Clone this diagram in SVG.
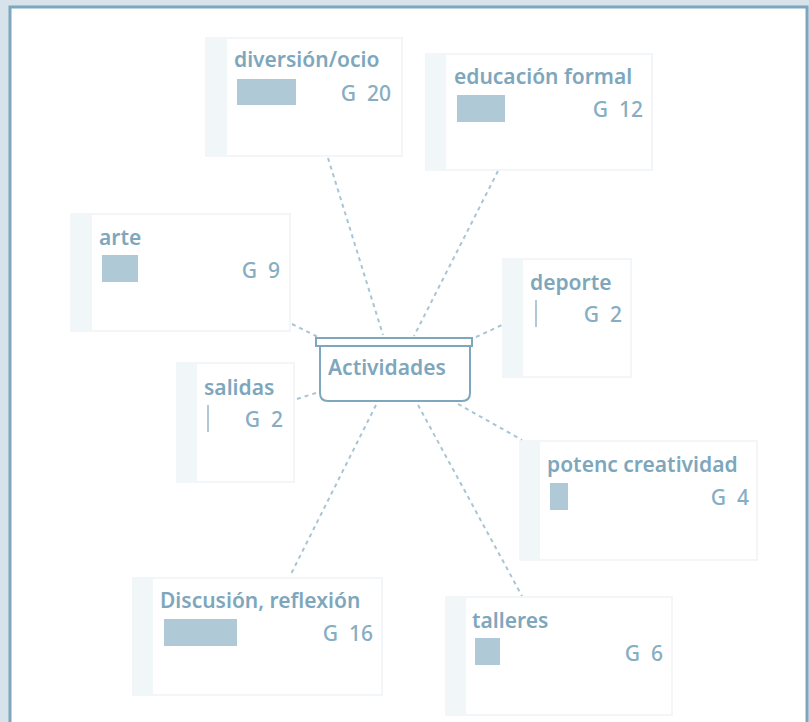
<svg xmlns="http://www.w3.org/2000/svg" width="809" height="722" viewBox="0 0 809 722">
<style>
.card{fill:#ffffff;stroke:#eef3f6;stroke-width:1.5}
.strip{fill:#f1f6f9}
.t{font-family:"Noto Sans","Open Sans",sans-serif;font-weight:600;font-size:21px;fill:#7ea7bd}
.g{font-family:"Noto Sans","Open Sans",sans-serif;font-weight:500;font-size:21px;fill:#86adc2;text-anchor:end;white-space:pre}
.bar{fill:#afc9d6}
.conn{stroke:#a9c5d4;stroke-width:2;stroke-dasharray:4 4;fill:none}
</style>
<rect width="809" height="722" fill="#d6e3ea"/>
<rect x="10" y="7" width="797" height="730" fill="#ffffff" stroke="#7da7bf" stroke-width="3"/>
<g id="connectors">
<line class="conn" x1="328" y1="158" x2="383" y2="335"/>
<line class="conn" x1="498" y1="171" x2="414" y2="336"/>
<line class="conn" x1="292" y1="324" x2="318" y2="337"/>
<line class="conn" x1="476" y1="337" x2="502" y2="325"/>
<line class="conn" x1="297" y1="399" x2="319" y2="392"/>
<line class="conn" x1="458" y1="404" x2="522" y2="440"/>
<line class="conn" x1="376" y1="405" x2="290" y2="576"/>
<line class="conn" x1="418" y1="405" x2="522" y2="596"/>
</g>
<g id="n-diversion">
<rect class="card" x="206" y="38" width="196" height="118"/>
<rect class="strip" x="207" y="39" width="20" height="116"/>
<text class="t" x="234" y="67">diversión/ocio</text>
<rect class="bar" x="237" y="79" width="59" height="26"/>
<text class="g" x="391" y="101" xml:space="preserve">G  20</text>
</g>
<g id="n-educacion">
<rect class="card" x="426" y="54" width="226" height="116"/>
<rect class="strip" x="427" y="55" width="19" height="114"/>
<text class="t" x="454" y="84">educación formal</text>
<rect class="bar" x="457" y="95" width="48" height="27"/>
<text class="g" x="643" y="117" xml:space="preserve">G  12</text>
</g>
<g id="n-arte">
<rect class="card" x="71" y="214" width="219" height="117"/>
<rect class="strip" x="72" y="215" width="20" height="115"/>
<text class="t" x="99" y="245">arte</text>
<rect class="bar" x="102" y="255" width="36" height="27"/>
<text class="g" x="280" y="278" xml:space="preserve">G  9</text>
</g>
<g id="n-deporte">
<rect class="card" x="503" y="259" width="128" height="118"/>
<rect class="strip" x="504" y="260" width="19" height="116"/>
<text class="t" x="530" y="290">deporte</text>
<rect class="bar" x="535" y="300" width="2" height="27"/>
<text class="g" x="622" y="322" xml:space="preserve">G  2</text>
</g>
<g id="n-salidas">
<rect class="card" x="177" y="363" width="117" height="119"/>
<rect class="strip" x="178" y="364" width="19" height="117"/>
<text class="t" x="204" y="395">salidas</text>
<rect class="bar" x="207" y="405" width="2" height="27"/>
<text class="g" x="283" y="427" xml:space="preserve">G  2</text>
</g>
<g id="n-potenc">
<rect class="card" x="520" y="441" width="237" height="119"/>
<rect class="strip" x="521" y="442" width="19" height="117"/>
<text class="t" x="547" y="472">potenc creatividad</text>
<rect class="bar" x="550" y="483" width="18" height="27"/>
<text class="g" x="749" y="505" xml:space="preserve">G  4</text>
</g>
<g id="n-discusion">
<rect class="card" x="133" y="578" width="249" height="117"/>
<rect class="strip" x="134" y="579" width="19" height="115"/>
<text class="t" x="160" y="608">Discusión, reflexión</text>
<rect class="bar" x="164" y="619" width="73" height="27"/>
<text class="g" x="373" y="641" xml:space="preserve">G  16</text>
</g>
<g id="n-talleres">
<rect class="card" x="446" y="597" width="226" height="118"/>
<rect class="strip" x="447" y="598" width="19" height="116"/>
<text class="t" x="472" y="628">talleres</text>
<rect class="bar" x="475" y="638" width="25" height="27"/>
<text class="g" x="663" y="661" xml:space="preserve">G  6</text>
</g>
<g id="n-actividades">
<path d="M320 346 V393 Q320 401 328 401 H462 Q470 401 470 393 V346" fill="#ffffff" stroke="#7ea7bd" stroke-width="2"/>
<rect x="316" y="338" width="156" height="8" fill="#ffffff" stroke="#7ea7bd" stroke-width="2"/>
<text class="t" x="328" y="375">Actividades</text>
</g>
</svg>
